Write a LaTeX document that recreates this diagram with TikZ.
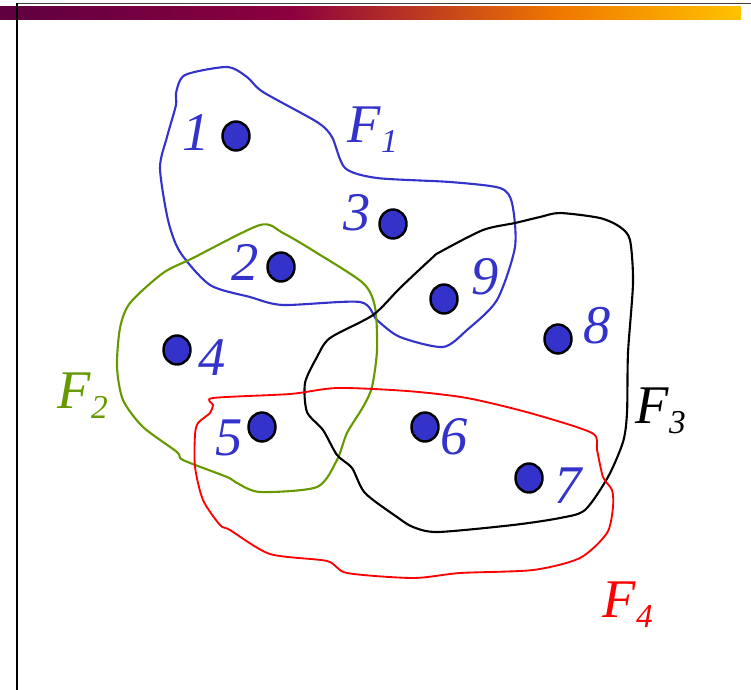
\documentclass[tikz,border=0pt]{standalone}
\usepackage{fontspec}
\setmainfont{Liberation Serif}
\usetikzlibrary{shapes.geometric}
\definecolor{ptblue}{HTML}{3333CC}
\definecolor{ptgreen}{HTML}{669900}
\definecolor{barA}{HTML}{5F0040}
\definecolor{barB}{HTML}{8C003F}
\definecolor{barC}{HTML}{F07800}
\definecolor{barD}{HTML}{FFC200}
\newcommand{\famlab}[1]{\textit{F}\raisebox{-6.2pt}{\fontsize{19}{19}\selectfont\itshape #1}}
\begin{document}
\begin{tikzpicture}[x=0.02cm,y=-0.02cm,line join=round,
	vert/.style={ellipse,draw=black,line width=1.4pt,fill=ptblue,inner sep=0pt,minimum width=0.54cm,minimum height=0.58cm},
	num/.style={text=ptblue,inner sep=0pt,font=\fontsize{31}{31}\selectfont\itshape},
	fam/.style={inner sep=0pt,anchor=base west,font=\fontsize{31}{31}\selectfont}]
		\useasboundingbox (0,0) rectangle (751,690);
		% header bar and margin line
		\shade[left color=barA,right color=barB] (0,6) rectangle (290,19);
		\shade[left color=barB,right color=barC] (290,6) rectangle (560,19);
		\shade[left color=barC,right color=barD] (560,6) rectangle (741,19);
		\draw[line width=0.9pt,black!75] (16,3.5)--(751,3.5);
		\draw[line width=1.2pt] (17,3)--(17,690);
		% the four sets
		\draw[ptblue,line width=1.2pt] plot[smooth cycle,tension=0.45] coordinates{(185,75) (227,67) (247,77) (263,92) (317,122) (332,137) (345,168) (377,178) (450,182) (500,188) (512,203) (515,247) (497,300) (467,330) (443,347) (400,337) (377,320) (360,302) (283,305) (250,297) (210,285) (180,252) (168,220) (160,168) (167,137) (176,105) (176,93)};
		\draw[ptgreen,line width=1.2pt] plot[smooth cycle,tension=0.45] coordinates{(260,225) (283,233) (317,253) (363,283) (375,307) (377,350) (372,387) (363,407) (347,433) (337,460) (317,487) (260,492) (237,483) (227,477) (183,460) (177,452) (143,427) (123,400) (117,367) (120,328) (130,303) (163,273) (193,258)};
		\draw[black,line width=1.2pt] plot[smooth cycle,tension=0.45] coordinates{(560,213) (600,218) (620,227) (630,240) (633,283) (628,353) (627,413) (623,442) (608,477) (585,510) (560,518) (513,525) (438,532) (413,527) (397,517) (365,493) (352,468) (337,455) (323,430) (307,412) (305,383) (317,357) (330,338) (373,315) (400,288) (432,258) (440,252) (483,230) (515,223) (540,217)};
		\draw[red,line width=1.05pt] plot[smooth cycle,tension=0.45] coordinates{(213,398) (213,405) (210,413) (198,423) (195,435) (195,467) (203,500) (220,525) (230,530) (270,554) (327,561) (347,573) (413,578) (460,573) (533,570) (580,558) (607,533) (613,507) (612,490) (603,477) (597,450) (592,433) (530,413) (467,398) (407,391) (337,388) (290,394)};
		% elements
		\node[vert] (v1) at (236,136) {};
		\node[vert] (v2) at (281,267) {};
		\node[vert] (v3) at (393,224) {};
		\node[vert] (v4) at (177,350) {};
		\node[vert] (v5) at (262,427) {};
		\node[vert] (v6) at (425,427) {};
		\node[vert] (v7) at (529,478) {};
		\node[vert] (v8) at (558,339) {};
		\node[vert] (v9) at (444,299) {};
		\node[num] (n1) at (196,133) {1};
		\node[num] (n2) at (245,262) {2};
		\node[num] (n3) at (357,213) {3};
		\node[num] (n4) at (212,358) {4};
		\node[num] (n5) at (229,438) {5};
		\node[num] (n6) at (454,437) {6};
		\node[num] (n7) at (568,486) {7};
		\node[num] (n8) at (597,326) {8};
		\node[num] (n9) at (485,277) {9};
		\node[fam,text=ptblue] (f1) at (347,142) {\famlab{1}};
		\node[fam,text=ptgreen] (f2) at (57,408) {\famlab{2}};
		\node[fam,text=black] (f3) at (635,423) {\famlab{3}};
		\node[fam,text=red] (f4) at (602,617) {\famlab{4}};
		\end{tikzpicture}
\end{document}
